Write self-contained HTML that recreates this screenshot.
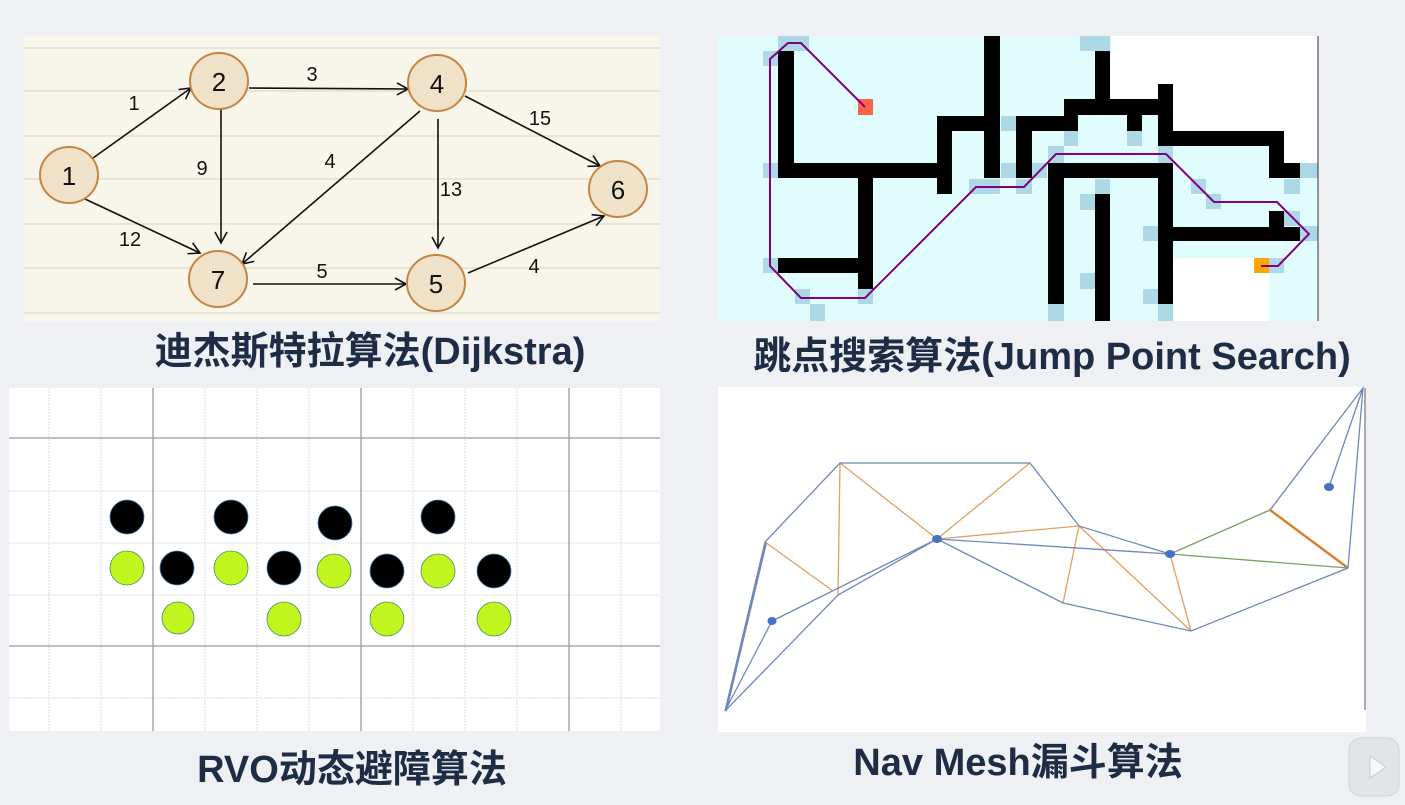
<!DOCTYPE html>
<html><head><meta charset="utf-8"><style>
html,body{margin:0;padding:0;background:#eef0f3;width:1405px;height:805px;overflow:hidden}
.t{position:absolute;font-family:"Liberation Sans","Noto Sans CJK SC",sans-serif;font-weight:bold;font-size:38px;line-height:44px;color:#1e2c45;white-space:nowrap;transform:translateX(-50%)}
</style></head><body>
<svg width="1405" height="805" style="position:absolute;left:0;top:0" xmlns="http://www.w3.org/2000/svg">
<defs>
<marker id="ar" markerWidth="14" markerHeight="14" refX="12" refY="7" orient="auto" markerUnits="userSpaceOnUse">
<path d="M1,1 L12,7 L1,13" fill="none" stroke="#111" stroke-width="1.6"/></marker>
</defs>
<!-- Dijkstra -->
<rect x="24" y="36" width="636" height="285" fill="#f8f6ea"/>
<g stroke="#e4dfcc" stroke-width="1.5">
<line x1="24" y1="48" x2="660" y2="48"/><line x1="24" y1="91" x2="660" y2="91"/><line x1="24" y1="136" x2="660" y2="136"/><line x1="24" y1="179" x2="660" y2="179"/><line x1="24" y1="224" x2="660" y2="224"/><line x1="24" y1="268" x2="660" y2="268"/><line x1="24" y1="313" x2="660" y2="313"/>
</g>
<g stroke="#111" stroke-width="1.6" marker-end="url(#ar)">
<line x1="93" y1="158" x2="191" y2="88"/>
<line x1="249" y1="88" x2="408" y2="89"/>
<line x1="221" y1="104" x2="221" y2="243"/>
<line x1="85" y1="199" x2="200" y2="253"/>
<line x1="420" y1="111" x2="242" y2="264"/>
<line x1="438" y1="119" x2="438" y2="248"/>
<line x1="465" y1="96" x2="600" y2="166"/>
<line x1="253" y1="284" x2="406" y2="284"/>
<line x1="468" y1="273" x2="604" y2="216"/>
</g>
<g fill="#f0e2c8" stroke="#c58540" stroke-width="2">
<ellipse cx="69" cy="175" rx="29" ry="28"/><ellipse cx="219" cy="81" rx="29" ry="28"/><ellipse cx="437" cy="83" rx="29" ry="28"/>
<ellipse cx="618" cy="189" rx="29" ry="28"/><ellipse cx="218" cy="279" rx="29" ry="28"/><ellipse cx="436" cy="283" rx="29" ry="28"/>
</g>
<g font-family="Liberation Sans, sans-serif" font-size="26" fill="#111" text-anchor="middle">
<text x="69" y="185">1</text><text x="219" y="91">2</text><text x="437" y="93">4</text><text x="618" y="199">6</text><text x="218" y="289">7</text><text x="436" y="293">5</text>
</g>
<g font-family="Liberation Sans, sans-serif" font-size="20" fill="#111" text-anchor="middle">
<text x="134" y="110">1</text><text x="312" y="81">3</text><text x="202" y="175">9</text><text x="330" y="168">4</text><text x="451" y="196">13</text><text x="540" y="125">15</text><text x="130" y="246">12</text><text x="322" y="278">5</text><text x="534" y="273">4</text>
</g>
<!-- JPS -->
<rect x="718" y="36" width="600" height="285" fill="#e0fcfc"/>
<g fill="#fff">
<rect x="1111" y="36" width="207" height="63"/><rect x="1173" y="99" width="145" height="32"/><rect x="1284" y="131" width="34" height="32"/><rect x="1173" y="258" width="96" height="63"/>
</g>
<g fill="#add8e6">
<rect x="778" y="36" width="31" height="15"/><rect x="763" y="51" width="15" height="15"/><rect x="763" y="163" width="15" height="15"/><rect x="1001" y="116" width="15" height="15"/><rect x="1080" y="36" width="30" height="15"/><rect x="1064" y="131" width="14" height="15"/><rect x="1127" y="131" width="15" height="15"/><rect x="1048" y="146" width="16" height="17"/><rect x="1001" y="163" width="46" height="15"/><rect x="969" y="179" width="31" height="15"/><rect x="1016" y="179" width="16" height="15"/><rect x="1095" y="179" width="15" height="15"/><rect x="1080" y="194" width="15" height="16"/><rect x="1158" y="146" width="15" height="17"/><rect x="1191" y="179" width="15" height="15"/><rect x="1206" y="194" width="15" height="15"/><rect x="1284" y="179" width="16" height="15"/><rect x="1300" y="163" width="18" height="15"/><rect x="1284" y="211" width="16" height="15"/><rect x="1300" y="226" width="18" height="15"/><rect x="1143" y="226" width="15" height="15"/><rect x="763" y="258" width="15" height="15"/><rect x="795" y="289" width="15" height="15"/><rect x="810" y="304" width="15" height="17"/><rect x="858" y="289" width="15" height="15"/><rect x="1080" y="273" width="15" height="16"/><rect x="1143" y="289" width="15" height="15"/><rect x="1048" y="304" width="16" height="17"/><rect x="1158" y="304" width="15" height="17"/><rect x="1269" y="258" width="15" height="15"/>
</g>
<g fill="#000">
<rect x="778" y="51" width="16" height="127"/><rect x="778" y="163" width="174" height="15"/><rect x="937" y="116" width="15" height="78"/><rect x="937" y="116" width="63" height="15"/><rect x="984" y="36" width="16" height="142"/>
<rect x="858" y="178" width="15" height="111"/><rect x="778" y="258" width="95" height="15"/>
<rect x="1016" y="116" width="16" height="62"/><rect x="1016" y="116" width="62" height="15"/><rect x="1064" y="99" width="14" height="32"/><rect x="1064" y="99" width="109" height="16"/><rect x="1095" y="51" width="15" height="64"/><rect x="1127" y="115" width="15" height="16"/><rect x="1158" y="84" width="15" height="62"/><rect x="1158" y="131" width="126" height="15"/><rect x="1269" y="131" width="15" height="47"/><rect x="1269" y="163" width="31" height="15"/>
<rect x="1048" y="163" width="125" height="15"/><rect x="1048" y="163" width="16" height="141"/><rect x="1158" y="163" width="15" height="141"/><rect x="1095" y="194" width="15" height="127"/>
<rect x="1173" y="227" width="127" height="14"/><rect x="1269" y="211" width="15" height="16"/>
</g>
<rect x="858" y="99" width="15" height="16" fill="#ff6347"/><rect x="1254" y="258" width="15" height="15" fill="#ffa500"/>
<polyline fill="none" stroke="#800080" stroke-width="2" points="865,107 801,43 788,43 770,59 770,266 801,298 865,298 976,187 1024,187 1056,154 1166,154 1214,202 1277,202 1309,234 1278,266 1261,266"/>
<line x1="1318" y1="36" x2="1318" y2="321" stroke="#333" stroke-width="1"/>
<!-- RVO -->
<rect x="9" y="388" width="651" height="343" fill="#fff"/>
<g stroke="#ddd" stroke-width="1" stroke-dasharray="2,1">
<line x1="49" y1="388" x2="49" y2="731"/><line x1="101" y1="388" x2="101" y2="731"/><line x1="205" y1="388" x2="205" y2="731"/><line x1="257" y1="388" x2="257" y2="731"/><line x1="309" y1="388" x2="309" y2="731"/><line x1="413" y1="388" x2="413" y2="731"/><line x1="465" y1="388" x2="465" y2="731"/><line x1="517" y1="388" x2="517" y2="731"/><line x1="621" y1="388" x2="621" y2="731"/>
<line x1="9" y1="491" x2="660" y2="491"/><line x1="9" y1="543" x2="660" y2="543"/><line x1="9" y1="595" x2="660" y2="595"/><line x1="9" y1="698" x2="660" y2="698"/>
</g>
<g stroke="#999" stroke-width="1.3">
<line x1="153" y1="388" x2="153" y2="731"/><line x1="361" y1="388" x2="361" y2="731"/><line x1="569" y1="388" x2="569" y2="731"/>
<line x1="9" y1="438" x2="660" y2="438"/><line x1="9" y1="646" x2="660" y2="646"/>
</g>
<g fill="#000" stroke="#4a78a8" stroke-width="0.8">
<ellipse cx="127" cy="517" rx="17" ry="17"/><ellipse cx="231" cy="517" rx="17" ry="17"/><ellipse cx="335" cy="523" rx="17" ry="17"/><ellipse cx="438" cy="517" rx="17" ry="17"/>
<ellipse cx="177" cy="568" rx="17" ry="17"/><ellipse cx="284" cy="568" rx="17" ry="17"/><ellipse cx="387" cy="571" rx="17" ry="17"/><ellipse cx="494" cy="571" rx="17" ry="17"/>
</g>
<g fill="#c0f51e" stroke="#4a8a6a" stroke-width="0.8">
<ellipse cx="127" cy="568" rx="17" ry="17"/><ellipse cx="231" cy="568" rx="17" ry="17"/><ellipse cx="334" cy="571" rx="17" ry="17"/><ellipse cx="438" cy="571" rx="17" ry="17"/>
<ellipse cx="178" cy="618" rx="16" ry="16"/><ellipse cx="284" cy="619" rx="17" ry="17"/><ellipse cx="387" cy="619" rx="17" ry="17"/><ellipse cx="494" cy="619" rx="17" ry="17"/>
</g>
<!-- NavMesh -->
<rect x="718" y="387" width="648" height="345" fill="#fff"/>
<line x1="1365" y1="388" x2="1365" y2="710" stroke="#555" stroke-width="1"/>
<g stroke="#e0a060" stroke-width="1.3" fill="none">
<line x1="765" y1="542" x2="833" y2="591"/><line x1="840" y1="463" x2="838" y2="595"/><line x1="840" y1="463" x2="937" y2="539"/><line x1="1030" y1="463" x2="937" y2="539"/><line x1="937" y1="539" x2="1079" y2="526"/><line x1="1079" y1="526" x2="1063" y2="603"/><line x1="1079" y1="526" x2="1191" y2="631"/><line x1="1170" y1="554" x2="1191" y2="631"/>
<line x1="1270" y1="510" x2="1348" y2="568" stroke="#d88030" stroke-width="2.5"/>
</g>
<g stroke="#7aa060" stroke-width="1.3"><line x1="1170" y1="554" x2="1270" y2="510"/><line x1="1170" y1="554" x2="1348" y2="568"/></g>
<g stroke="#6f88b8" stroke-width="1.3" fill="none">
<polyline points="725,711 765,542 840,463 1030,463 1079,526 1170,554"/>
<polyline points="1270,510 1363,388 1348,568 1191,631 1063,603 937,539 838,595 725,711 772,621 937,539 1170,554"/>
<line x1="1363" y1="388" x2="1329" y2="487"/>
<line x1="726" y1="711" x2="766" y2="543" stroke-width="2"/>
</g>
<g fill="#4472c4"><ellipse cx="772" cy="621" rx="4.5" ry="4"/><ellipse cx="937" cy="539" rx="5" ry="4"/><ellipse cx="1170" cy="554" rx="5" ry="4"/><ellipse cx="1329" cy="487" rx="5" ry="4"/></g>
<!-- logo -->
<rect x="1349" y="738" width="50" height="58" rx="12" fill="#e2e4e8" stroke="#cfd2d6"/>
<path d="M1370,756 L1386,767 L1370,778 Z" fill="#f7f8f9" stroke="#c8cbd0"/>
</svg>
<div class="t" style="left:370px;top:330px">迪杰斯特拉算法(Dijkstra)</div>
<div class="t" style="left:1052px;top:335px">跳点搜索算法(Jump Point Search)</div>
<div class="t" style="left:352px;top:748px">RVO动态避障算法</div>
<div class="t" style="left:1018px;top:741px">Nav Mesh漏斗算法</div>
</body></html>
